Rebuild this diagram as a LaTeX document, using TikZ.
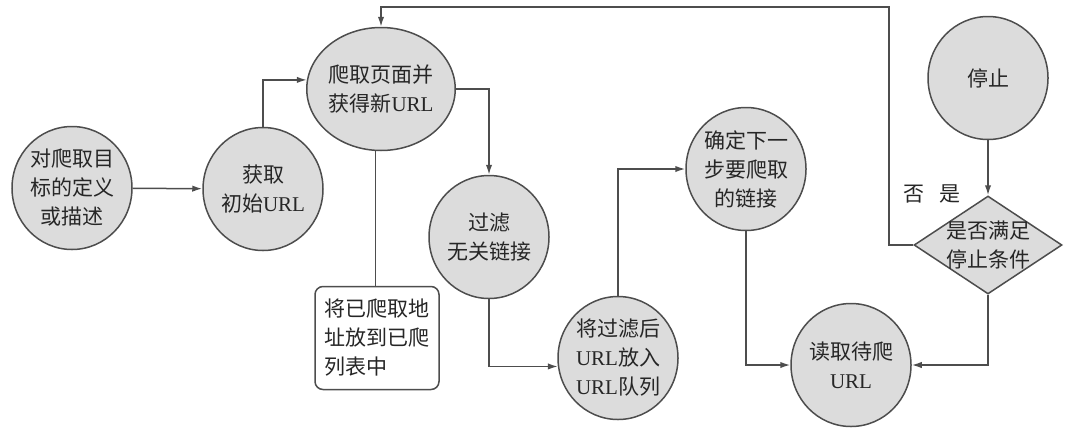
\documentclass[tikz,border=0pt]{standalone}
\usepackage{fontspec}
\setmainfont{Liberation Serif}
\newfontfamily\cjk{Noto Sans CJK SC}
\usetikzlibrary{shapes.geometric,arrows.meta}
\definecolor{nodefill}{HTML}{DCDCDC}
\definecolor{linegray}{HTML}{4D4D4D}
\newcommand\URL{{\rmfamily URL}}

\begin{document}
\begin{tikzpicture}[x=0.5pt,y=-0.5pt,
  font=\cjk\fontsize{10.5}{14.5}\selectfont,
  proc/.style={ellipse,draw=linegray,line width=0.75pt,fill=nodefill,
    minimum width=60pt,minimum height=61.5pt,inner sep=0pt,align=center,
    text=black!85},
  note/.style={rectangle,rounded corners=4pt,draw=linegray,line width=0.75pt,
    fill=white,minimum width=62pt,minimum height=51.5pt,text width=52.5pt,
    inner sep=0pt,align=left,text=black!85},
  cond/.style={diamond,draw=linegray,line width=0.75pt,fill=nodefill,
    minimum width=74pt,minimum height=49pt,inner sep=0pt},
  link/.style={draw=linegray,line width=0.75pt},
  arr/.style={link,-{Latex[length=5pt,width=3.2pt]}}]
\useasboundingbox (0,0) rectangle (1080,434);

\node[proc] (goal) at (72,188) {对爬取目\\标的定义\\或描述};
\node[proc] (seed) at (263,189) {获取\\初始\URL};
\node[proc] (crawl) at (381,89) {爬取页面并\\获得新\URL};
\node[proc] (filter) at (489,237) {过滤\\无关链接};
\node[note] (done) at (377,338) {将已爬取地\\址放到已爬\\列表中};
\node[proc] (queue) at (618,358) {将过滤后\\\URL 放入\\\URL 队列};
\node[proc] (next) at (746,169) {确定下一\\步要爬取\\的链接};
\node[proc] (read) at (851,365) {读取待爬\\\URL};
\node[proc] (stop) at (988,78) {停止};
\node[cond, label={[align=center,text=black!85]center:是否满足\\停止条件}]
  (check) at (988,245) {};
\node[text=black!85] (no) at (914,194) {否};
\node[text=black!85] (yes) at (950,194) {是};
\coordinate (back) at (889,7);

\draw[arr] (goal) -- (seed);
\draw[arr] (seed.north) |- (crawl.173);
\draw[arr] (crawl.east) -| (filter.north);
\draw[link] (crawl.265) -- (crawl.265 |- done.north);
\draw[arr] (filter.south) |- (queue.188);
\draw[arr] (queue.north) |- (next.west);
\draw[arr] (next.south) |- (read.west);
\draw[arr] (stop.south) -- (check.north);
\draw[arr] (check.south) |- (read.east);
\draw[arr] (check.west) -| (back) -| (crawl.north);
\end{tikzpicture}
\end{document}
